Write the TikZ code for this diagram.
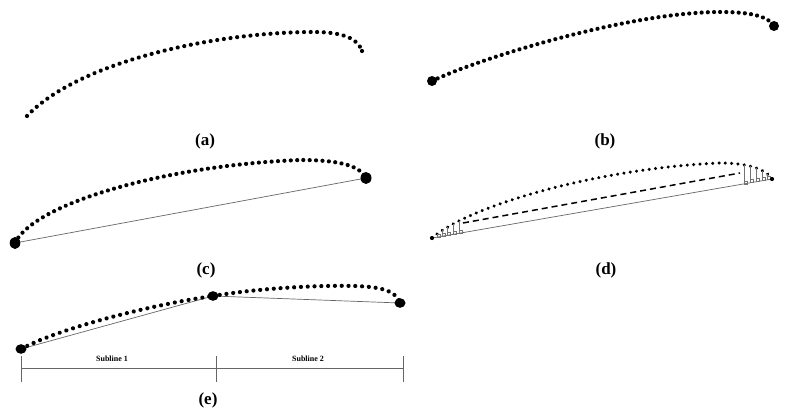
\documentclass[tikz,border=0pt]{standalone}
\usepackage{fontspec}
\setmainfont{Liberation Serif}
\usetikzlibrary{decorations.markings,calc}
\begin{document}
\begin{tikzpicture}[x=1pt,y=-1pt,
  lab/.style={font=\bfseries\fontsize{17}{20}\selectfont, inner sep=0pt},
  sublab/.style={font=\bfseries\fontsize{8}{9}\selectfont, inner sep=0pt},
  gline/.style={draw=black!60, line width=0.7pt},
  vline/.style={draw=black!55, line width=0.5pt},
  dashline/.style={draw=black, line width=1.5pt, dash pattern=on 6pt off 4pt},
  dotcurve/.style={postaction={decorate}, decoration={markings, mark=between positions 0 and 1 step #1 with {\fill (0,0) circle (2.1pt);}}},
]
\useasboundingbox (0,0) rectangle (790,415);

% ---------- (a)
\coordinate (a0) at (27,116);
\coordinate (a1) at (313,32);
\coordinate (a2) at (362,51);
\path[dotcurve=6.7pt] (a0) .. controls (80,60) and (220,32) .. (a1) .. controls (340,32) and (357,37) .. (a2);
\fill (a2) circle (2.1pt);
\node[lab] (la) at (205,141) {(a)};

% ---------- (b)
\coordinate (b0) at (432,81);
\coordinate (b1) at (720,12);
\coordinate (b2) at (774,26);
\path[dotcurve=6.2pt] (b0) .. controls (480,58) and (630,12) .. (b1) .. controls (750,12) and (768,16) .. (b2);
\fill (b0) circle (5pt);
\fill (b2) circle (5pt);
\node[lab] (lb) at (605,141) {(b)};

% ---------- (c)
\coordinate (c0) at (15,243);
\coordinate (c1) at (300,160);
\coordinate (c2) at (366,178);
\draw[gline] (c0) -- (c2);
\path[dotcurve=6.4pt] (c0) .. controls (35,202) and (170,165) .. (c1) .. controls (340,160) and (360,166) .. (c2);
\fill (c0) ellipse (5.3pt and 6pt);
\fill (c2) ellipse (5.5pt and 6pt);
\node[lab] (lc) at (206,270) {(c)};

% ---------- (d)
\coordinate (dS) at (432,238);
\coordinate (dP) at (720,163);
\coordinate (dE) at (772,179);
\coordinate (q1) at (463,223);
\coordinate (q2) at (740,173);
\draw[gline] (dS) -- (dE);
\draw[dashline] (q1) -- (q2);
\path[postaction={decorate}, decoration={markings, mark=between positions 0 and 1 step 0.017857 with {\coordinate (dd\pgfkeysvalueof{/pgf/decoration/mark info/sequence number}); \fill (0,0) circle (1.7pt);}}]
  (dS) .. controls (470,205) and (600,168) .. (dP) .. controls (745,163) and (765,168) .. (dE);
\foreach \k in {2,3,4,5,6,52,53,54,55,56} {
  \draw[vline] let \p1=(dd\k), \p2=(dS), \p3=(dE) in
    (\p1) -- (\x1, {\y2+(\x1-\x2)/(\x3-\x2)*(\y3-\y2)}) coordinate (ff\k);
  \draw[vline] (ff\k) rectangle ++(3,-3);
}
\fill (dS) circle (2.1pt);
\fill (dE) circle (2.1pt);
\node[lab] (ld) at (606,270) {(d)};

% ---------- (e)
\coordinate (e0) at (21,349);
\coordinate (e1) at (213,296);
\coordinate (ep) at (355,286);
\coordinate (e2) at (400,303);
\draw[gline] (e0) -- (e1) -- (e2);
\path[dotcurve=7pt] (e0) .. controls (60,328) and (150,305) .. (e1);
\path[dotcurve=6.8pt] (e1) .. controls (260,288) and (320,285) .. (ep) .. controls (385,287) and (396,292) .. (e2);
\fill (e0) ellipse (5.5pt and 4.8pt);
\fill (e1) ellipse (5.5pt and 4.8pt);
\fill (e2) ellipse (5.5pt and 4.8pt);

\coordinate (h1) at (21,368);
\coordinate (h3) at (403,368);
\coordinate (k1t) at (21,356);  \coordinate (k1b) at (21,382);
\coordinate (k2t) at (216,356); \coordinate (k2b) at (216,382);
\coordinate (k3t) at (403,356); \coordinate (k3b) at (403,382);
\draw[gline] (h1) -- (h3);
\draw[gline] (k1t) -- (k1b);
\draw[gline] (k2t) -- (k2b);
\draw[gline] (k3t) -- (k3b);
\node[sublab] (s1) at (112,359) {Subline 1};
\node[sublab] (s2) at (308,359) {Subline 2};
\node[lab] (le) at (208,400) {(e)};
\end{tikzpicture}
\end{document}
